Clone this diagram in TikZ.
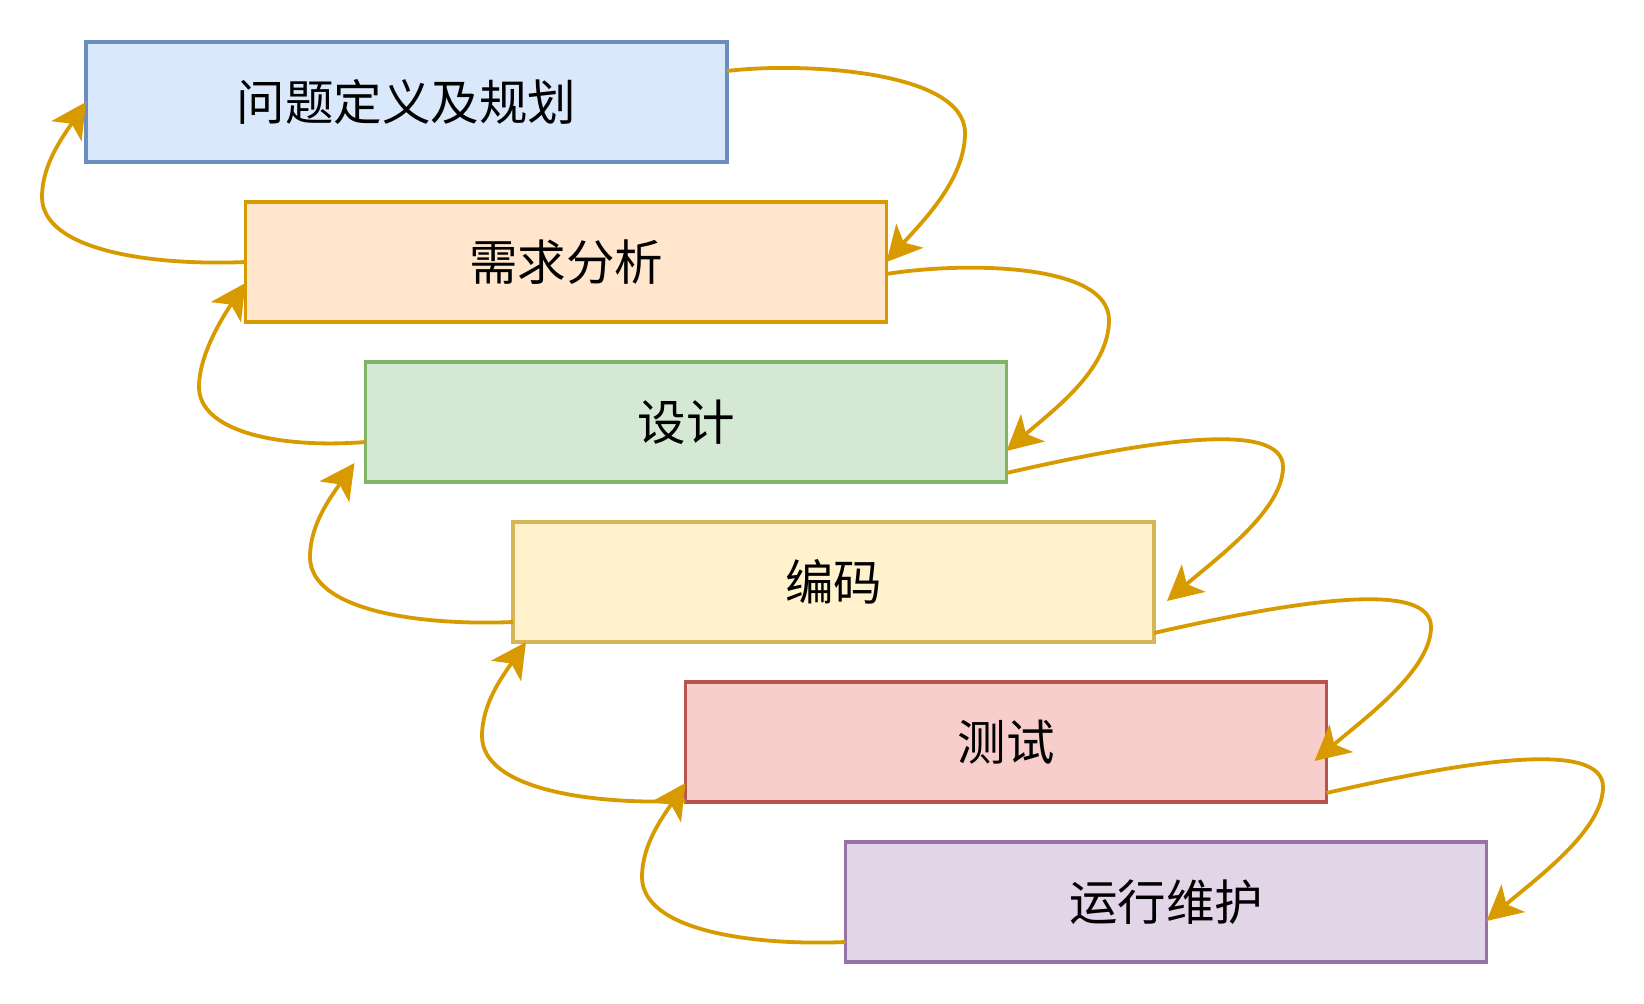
\documentclass[tikz,border=0pt]{standalone}
\usepackage{fontspec}
\newfontfamily\cjk{Noto Sans CJK SC}
\usetikzlibrary{arrows.meta}
\definecolor{fa}{HTML}{DAE8FC}\definecolor{sa}{HTML}{6C8EBF}
\definecolor{fb}{HTML}{FFE6CC}\definecolor{sb}{HTML}{D79B00}
\definecolor{fc}{HTML}{D5E8D4}\definecolor{sc}{HTML}{82B366}
\definecolor{fd}{HTML}{FFF2CC}\definecolor{sd}{HTML}{D6B656}
\definecolor{fe}{HTML}{F8CECC}\definecolor{se}{HTML}{B85450}
\definecolor{ff}{HTML}{E1D5E7}\definecolor{sf}{HTML}{9673A6}
\definecolor{arr}{HTML}{D79B00}
\begin{document}
\begin{tikzpicture}[x=1pt,y=-1pt,
  box/.style={draw, line width=3.8pt, minimum width=641pt, minimum height=120pt,
    inner sep=0pt, outer sep=0pt, font=\cjk\fontsize{48.5}{56}\selectfont, text=black},
  flow/.style={draw=arr, line width=3.8pt, -{Stealth[length=35pt,width=36pt,inset=9pt]}}]
\useasboundingbox[fill=white] (0,0) rectangle (1644,1004);

\node[box, fill=fa, draw=sa] (b1) at (406.5,102) {问题定义及规划};
\node[box, fill=fb, draw=sb] (b2) at (566,262) {需求分析};
\node[box, fill=fc, draw=sc] (b3) at (686,422) {设计};
\node[box, fill=fd, draw=sd] (b4) at (833.5,582) {编码};
\node[box, fill=fe, draw=se] (b5) at (1006,742) {测试};
\node[box, fill=ff, draw=sf] (b6) at (1166,902) {运行维护};

% right-side arrows (forward)
\draw[flow] ([yshift=-29pt]b1.north east) .. controls (800,62) and (965,70) .. (965,133)
  .. controls (965,180) and (922,222) .. (b2.east);
\draw[flow] ([yshift=-12pt]b2.east) .. controls (960,262) and (1109,262) .. (1109,320)
  .. controls (1109,370) and (1052,411) .. ([yshift=-29pt]b3.east);
\draw[flow] ([yshift=9pt]b3.south east) .. controls (1150,440) and (1283,420) .. (1283,467)
  .. controls (1283,510) and (1217,558) .. ([xshift=13pt,yshift=41pt]b4.south east);
\draw[flow] ([yshift=9pt]b4.south east) .. controls (1298,600) and (1431,580) .. (1431,627)
  .. controls (1431,670) and (1365,718) .. ([xshift=-12pt,yshift=41pt]b5.south east);
\draw[flow] ([yshift=9pt]b5.south east) .. controls (1470,760) and (1603,740) .. (1603,787)
  .. controls (1603,830) and (1537,878) .. ([yshift=41pt]b6.south east);

% left-side arrows (feedback)
\draw[flow] (b2.west) .. controls (150,266) and (42,250) .. (42,197)
  .. controls (42,165) and (62,138) .. (b1.west);
\draw[flow] ([yshift=-20pt]b3.west) .. controls (275,449) and (199,430) .. (199,387)
  .. controls (199,355) and (222,318) .. ([yshift=-21pt]b2.west);
\draw[flow] ([yshift=-40pt]b4.west) .. controls (418,626) and (310,610) .. (310,557)
  .. controls (310,525) and (330,498) .. ([xshift=-11pt,yshift=19pt]b3.south west);
\draw[flow] ([yshift=1pt]b5.south west) .. controls (590,805) and (482,789) .. (482,736)
  .. controls (482,704) and (502,677) .. ([xshift=13pt]b4.south west);
\draw[flow] ([yshift=-40pt]b6.west) .. controls (750,946) and (642,930) .. (642,877)
  .. controls (642,845) and (662,818) .. ([yshift=19pt]b5.south west);
\end{tikzpicture}
\end{document}
